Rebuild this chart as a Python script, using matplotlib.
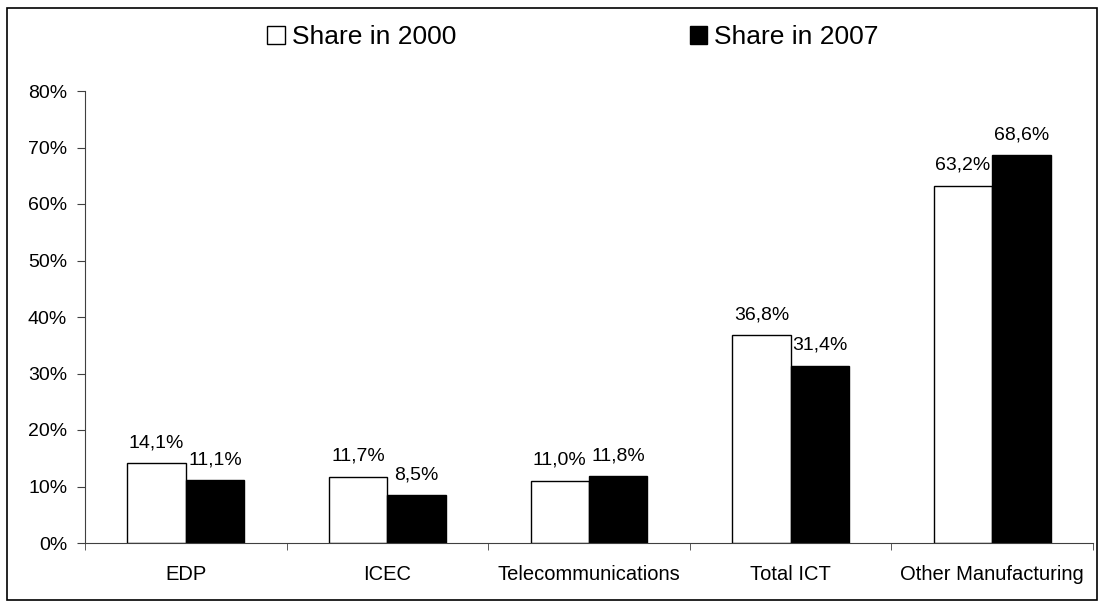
import matplotlib.pyplot as plt
import matplotlib.patches as mpatches
import numpy as np

plt.rcParams['font.family'] = ['Liberation Sans', 'DejaVu Sans']

#%% Data
categories = ["EDP", "ICEC", "Telecommunications", "Total ICT", "Other Manufacturing"]
share_2000 = [14.1, 11.7, 11.0, 36.8, 63.2]
share_2007 = [11.1, 8.5, 11.8, 31.4, 68.6]
series_names = ["Share in 2000", "Share in 2007"]
yticks = [0, 10, 20, 30, 40, 50, 60, 70, 80]

#%% Plot
fig = plt.figure(figsize=(11.02, 6.08), dpi=100)
ax = fig.add_axes([85/1102, 1 - 543/608, (1093-85)/1102, (543-91)/608])

x = np.arange(len(categories))
w = 0.29
ax.bar(x - w/2, share_2000, w, color='white', edgecolor='black', linewidth=1)
ax.bar(x + w/2, share_2007, w, color='black', edgecolor='black', linewidth=1)

# value labels above bars
for xi, v in zip(x, share_2000):
    ax.annotate(f"{v:.1f}%".replace('.', ','), (xi - w/2, v), xytext=(0, 11.5),
                textcoords='offset points', ha='center', va='baseline', fontsize=14)
for xi, v in zip(x, share_2007):
    ax.annotate(f"{v:.1f}%".replace('.', ','), (xi + w/2, v), xytext=(0, 11.5),
                textcoords='offset points', ha='center', va='baseline', fontsize=14)

ax.set_xlim(-0.5, len(categories) - 0.5)
ax.set_ylim(0, 80)
ax.set_yticks(yticks)
ax.set_yticklabels([f"{t}%" for t in yticks], fontsize=14)
ax.set_xticks(x)
ax.set_xticklabels(categories, fontsize=14.5)
ax.set_xticks(np.arange(-0.5, len(categories)), minor=True)
ax.tick_params(axis='x', which='major', length=0, pad=16)
ax.tick_params(axis='x', which='minor', length=5, direction='out', color='#404040')
ax.tick_params(axis='y', length=5.8, direction='out', color='#404040', pad=7)
ax.spines[['right', 'top']].set_visible(False)
ax.spines[['left', 'bottom']].set_color('#404040')

handles = [mpatches.Patch(facecolor='white', edgecolor='black', linewidth=1),
           mpatches.Patch(facecolor='black', edgecolor='black', linewidth=1)]
fig.legend(handles, series_names, loc='center', bbox_to_anchor=(573/1102, 1 - 37/608),
           ncol=2, frameon=False, fontsize=19, handlelength=0.66, handleheight=0.66,
           handletextpad=0.265, columnspacing=8.86, borderpad=0, borderaxespad=0)

# outer border
fig.add_artist(mpatches.Rectangle((7/1102, 1 - 600/608), 1090/1102, 592/608,
                                  transform=fig.transFigure, fill=False,
                                  edgecolor='black', linewidth=1.2))

fig.savefig('out.png', dpi=100)
